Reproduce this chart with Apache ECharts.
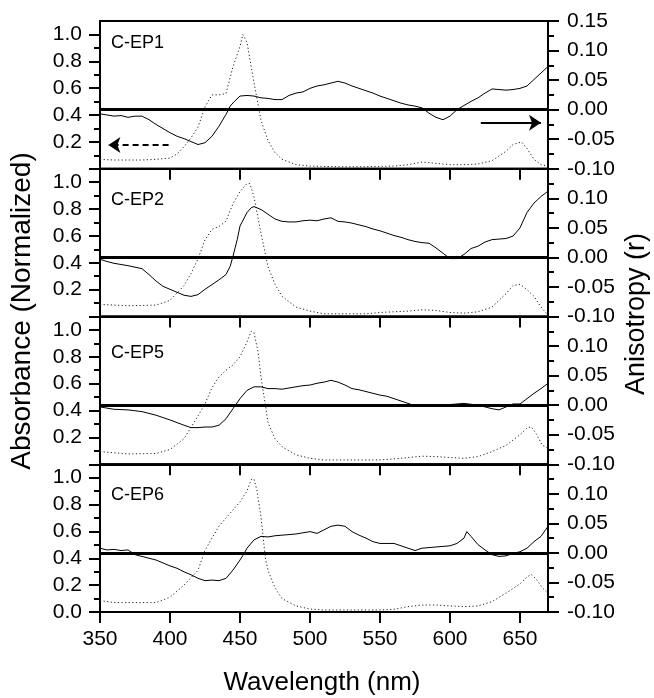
<!DOCTYPE html>
<html>
<head>
<meta charset="utf-8">
<script src="https://cdn.jsdelivr.net/npm/echarts@6/dist/echarts.min.js"></script>
<style>
  html, body { margin: 0; padding: 0; background: #fff; }
  #chart { width: 654px; height: 698px; }
</style>
</head>
<body>
<div id="chart"></div>
<script>
// sample names, one panel each
const panelNames = ["C-EP1", "C-EP2", "C-EP5", "C-EP6"];

// tick positions
const absTicks = [0.0, 0.2, 0.4, 0.6, 0.8, 1.0];
const absLabels = [0.2, 0.4, 0.6, 0.8, 1.0];
const absLabelsBottom = [0.0, 0.2, 0.4, 0.6, 0.8, 1.0];
const absMinorTicks = [0.1, 0.3, 0.5, 0.7, 0.9];
const anisTicks = [-0.1, -0.05, 0.0, 0.05, 0.1, 0.15];
const anisLabels = [-0.1, -0.05, 0.0, 0.05, 0.1];
const anisLabelsTop = [-0.1, -0.05, 0.0, 0.05, 0.1, 0.15];
const anisMinorTicks = [-0.075, -0.025, 0.025, 0.075, 0.125];

// absorbance (normalized), dotted curves  [nm, value]
const absEP1 = [[350,0.07],[360,0.065],[370,0.065],[380,0.065],[390,0.07],[400,0.08],[405,0.11],[410,0.165],[415,0.23],[420,0.31],[425,0.46],[430,0.55],[435,0.55],[440,0.56],[445,0.76],[450,0.91],[452,1.0],[455,0.94],[460,0.64],[465,0.36],[470,0.21],[475,0.12],[480,0.07],[490,0.03],[500,0.02],[520,0.015],[540,0.015],[560,0.02],[570,0.03],[580,0.05],[590,0.04],[600,0.03],[610,0.03],[620,0.035],[630,0.06],[640,0.13],[645,0.18],[651,0.2],[655,0.15],[660,0.07],[665,0.03],[670,0.02]];
const absEP2 = [[350,0.09],[370,0.08],[390,0.085],[400,0.12],[410,0.23],[415,0.32],[420,0.43],[425,0.57],[430,0.65],[435,0.67],[440,0.71],[445,0.84],[450,0.93],[455,0.99],[457,0.99],[460,0.89],[465,0.62],[470,0.37],[475,0.24],[480,0.15],[490,0.07],[500,0.04],[510,0.02],[540,0.02],[550,0.03],[570,0.04],[580,0.05],[590,0.045],[600,0.03],[610,0.025],[620,0.035],[630,0.07],[640,0.17],[645,0.23],[650,0.24],[655,0.2],[660,0.15],[665,0.07],[670,0.01]];
const absEP5 = [[350,0.094],[370,0.077],[390,0.08],[400,0.11],[410,0.19],[420,0.36],[425,0.45],[430,0.57],[435,0.65],[440,0.7],[445,0.74],[450,0.8],[455,0.91],[458,0.99],[460,0.98],[463,0.83],[465,0.65],[468,0.45],[470,0.31],[475,0.19],[480,0.13],[490,0.07],[500,0.044],[510,0.032],[550,0.032],[560,0.04],[570,0.05],[580,0.06],[590,0.057],[600,0.05],[610,0.044],[620,0.057],[630,0.094],[640,0.14],[650,0.22],[655,0.27],[658,0.28],[662,0.22],[666,0.14],[670,0.12]];
const absEP6 = [[350,0.085],[360,0.07],[390,0.07],[400,0.11],[410,0.2],[420,0.31],[425,0.46],[430,0.55],[435,0.64],[440,0.7],[445,0.76],[450,0.82],[455,0.9],[458,0.985],[460,0.99],[462,0.91],[465,0.71],[468,0.41],[470,0.31],[475,0.18],[480,0.1],[490,0.045],[500,0.022],[510,0.015],[550,0.015],[560,0.02],[570,0.04],[580,0.052],[590,0.052],[600,0.045],[610,0.04],[620,0.045],[630,0.077],[640,0.14],[650,0.21],[655,0.26],[658,0.28],[662,0.24],[666,0.18],[670,0.14]];

// anisotropy r, solid curves  [nm, value]
const anisEP1 = [[350,-0.007],[355,-0.009],[360,-0.011],[365,-0.01],[370,-0.013],[375,-0.011],[380,-0.011],[385,-0.017],[390,-0.025],[395,-0.032],[400,-0.039],[405,-0.045],[410,-0.049],[415,-0.054],[420,-0.059],[425,-0.056],[430,-0.045],[435,-0.028],[440,-0.008],[443,0.006],[446,0.014],[450,0.023],[455,0.024],[460,0.023],[465,0.02],[470,0.019],[475,0.017],[480,0.017],[485,0.024],[490,0.028],[495,0.03],[500,0.036],[505,0.04],[510,0.042],[515,0.045],[520,0.048],[525,0.045],[530,0.04],[535,0.036],[540,0.032],[545,0.028],[550,0.023],[555,0.019],[560,0.015],[565,0.011],[570,0.008],[575,0.006],[580,0.003],[585,-0.006],[590,-0.013],[595,-0.017],[600,-0.011],[605,0.0],[610,0.007],[615,0.014],[620,0.02],[625,0.028],[630,0.035],[635,0.034],[640,0.033],[645,0.034],[650,0.036],[655,0.04],[660,0.051],[665,0.062],[670,0.073]];
const anisEP2 = [[350,-0.003],[355,-0.007],[360,-0.01],[370,-0.014],[380,-0.019],[385,-0.029],[390,-0.04],[395,-0.049],[400,-0.054],[410,-0.064],[415,-0.066],[420,-0.063],[425,-0.054],[430,-0.046],[435,-0.038],[440,-0.029],[443,-0.015],[445,0.002],[448,0.03],[450,0.053],[455,0.076],[458,0.084],[460,0.086],[465,0.081],[470,0.073],[475,0.065],[480,0.061],[485,0.06],[490,0.06],[495,0.062],[500,0.063],[505,0.062],[510,0.065],[515,0.067],[520,0.061],[525,0.06],[530,0.058],[535,0.055],[540,0.052],[545,0.048],[550,0.045],[555,0.041],[560,0.037],[565,0.034],[570,0.03],[575,0.027],[580,0.025],[585,0.024],[590,0.016],[595,0.007],[600,-0.002],[605,-0.002],[610,0.005],[615,0.015],[620,0.019],[625,0.026],[630,0.03],[635,0.031],[640,0.032],[645,0.036],[650,0.05],[655,0.076],[660,0.092],[665,0.103],[670,0.112]];
const anisEP5 = [[350,-0.003],[355,-0.005],[360,-0.007],[370,-0.008],[380,-0.011],[390,-0.017],[400,-0.025],[410,-0.034],[415,-0.038],[420,-0.038],[425,-0.037],[430,-0.037],[435,-0.034],[440,-0.023],[445,-0.006],[450,0.011],[455,0.025],[460,0.031],[465,0.031],[470,0.028],[475,0.028],[480,0.027],[485,0.029],[490,0.031],[495,0.033],[500,0.034],[505,0.037],[510,0.039],[515,0.042],[520,0.039],[525,0.034],[530,0.028],[535,0.026],[540,0.023],[545,0.02],[550,0.017],[555,0.015],[560,0.011],[565,0.007],[570,0.003],[575,-0.001],[580,-0.002],[590,-0.002],[600,0.001],[610,0.003],[620,0.0],[630,-0.006],[635,-0.008],[640,-0.003],[645,0.002],[650,0.002],[655,0.011],[660,0.02],[665,0.028],[670,0.037]];
const anisEP6 = [[350,0.008],[355,0.005],[360,0.006],[365,0.004],[370,0.005],[375,-0.003],[380,-0.006],[385,-0.009],[390,-0.012],[395,-0.017],[400,-0.022],[405,-0.026],[410,-0.032],[415,-0.037],[420,-0.043],[425,-0.047],[430,-0.046],[435,-0.047],[440,-0.043],[445,-0.029],[450,-0.012],[453,-0.001],[455,0.008],[460,0.022],[465,0.028],[470,0.027],[475,0.029],[480,0.03],[485,0.031],[490,0.032],[495,0.034],[500,0.036],[505,0.033],[510,0.039],[515,0.045],[520,0.047],[525,0.045],[530,0.036],[535,0.03],[540,0.025],[545,0.019],[550,0.016],[555,0.016],[560,0.016],[565,0.012],[570,0.008],[575,0.004],[580,0.008],[585,0.009],[590,0.01],[595,0.011],[600,0.012],[605,0.016],[610,0.025],[612,0.036],[615,0.028],[620,0.014],[625,0.005],[630,-0.003],[635,-0.006],[640,-0.005],[645,-0.001],[650,0.002],[655,0.008],[660,0.019],[665,0.028],[670,0.045]];

const absData = [absEP1, absEP2, absEP5, absEP6];
const anisData = [anisEP1, anisEP2, anisEP5, anisEP6];

// panel arrows (first panel only)
const absArrow = [[399, 0.177], [356, 0.177]];
const anisArrow = [[622, -0.022], [665, -0.022]];

function init() {
  const chart = echarts.init(document.getElementById("chart"));
  const font = '"Liberation Sans", Arial, sans-serif';
  const black = "#000";
  const clear = "rgba(0,0,0,0)";
  const panelTop = 21;
  const panelH = 147.75;
  const labelTops = [34, 191, 344, 486];
  const tickStyle = { color: black, width: 2 };

  const grids = [], xAxes = [], yAxes = [], series = [], titles = [];

  // an axis that only draws tick marks (no line, no labels)
  function tickAxis(base, values, len) {
    return Object.assign({}, base, {
      axisLine: { show: false, onZero: false },
      axisTick: { show: true, customValues: values, length: len, lineStyle: tickStyle },
      axisLabel: { show: false },
      splitLine: { show: false },
    });
  }

  panelNames.forEach(function (name, i) {
    const first = i === 0;
    const last = i === panelNames.length - 1;
    grids.push({
      left: 100, right: 106,
      top: panelTop + i * panelH, height: panelH,
      show: true, borderColor: black, borderWidth: 2,
      backgroundColor: "transparent",
    });

    // wavelength axis, auto ticks every 50 nm; labels only seen on the bottom panel
    xAxes.push({
      type: "value", gridIndex: i, min: 350, max: 670,
      axisLine: { onZero: false, lineStyle: tickStyle },
      axisTick: { show: true, length: 11, lineStyle: tickStyle },
      axisLabel: {
        margin: 17, fontSize: 21, showMaxLabel: false,
        color: last ? black : clear, fontFamily: font,
      },
      splitLine: { show: false },
    });

    // absorbance axis (left)
    const lBase = { type: "value", gridIndex: i, position: "left", min: 0, max: 1.1 };
    yAxes.push(Object.assign({}, lBase, {
      axisLine: { show: true, lineStyle: tickStyle },
      axisTick: { show: false },
      axisLabel: {
        customValues: last ? absLabelsBottom : absLabels, margin: 18, fontSize: 21,
        color: black, fontFamily: font,
        formatter: function (v) { return v.toFixed(1); },
      },
      splitLine: { show: false },
    }));
    yAxes.push(tickAxis(lBase, absTicks, 11));
    yAxes.push(tickAxis(lBase, absMinorTicks, 6));

    // anisotropy axis (right)
    const rBase = { type: "value", gridIndex: i, position: "right", min: -0.1, max: 0.15 };
    yAxes.push(Object.assign({}, rBase, {
      axisLine: { show: true, lineStyle: tickStyle },
      axisTick: { show: false },
      axisLabel: {
        customValues: first ? anisLabelsTop : anisLabels, margin: 19, fontSize: 21,
        color: black, fontFamily: font,
        formatter: function (v) { return v.toFixed(2); },
      },
      splitLine: { show: false },
    }));
    yAxes.push(tickAxis(rBase, anisTicks, 11));
    yAxes.push(tickAxis(rBase, anisMinorTicks, 6));

    titles.push({
      text: name, left: 111, top: labelTops[i], padding: 0,
      textStyle: { fontSize: 18, fontWeight: "normal", color: black, fontFamily: font },
    });

    // absorbance, dotted
    const absSeries = {
      type: "line", xAxisIndex: i, yAxisIndex: 6 * i,
      data: absData[i], symbol: "none", silent: true,
      lineStyle: { color: "#222", width: 1, type: [1.2, 2.4] },
    };
    // anisotropy, solid, with the zero line
    const anisSeries = {
      type: "line", xAxisIndex: i, yAxisIndex: 6 * i + 3,
      data: anisData[i], symbol: "none", silent: true,
      lineStyle: { color: black, width: 1 },
      markLine: {
        silent: true, symbol: ["none", "none"], label: { show: false },
        lineStyle: { color: black, width: 3, type: "solid" },
        data: [{ yAxis: 0 }],
      },
    };
    if (first) {
      absSeries.markLine = {
        silent: true, symbol: ["none", "arrow"], symbolSize: 12, label: { show: false },
        lineStyle: { color: black, width: 2, type: [6, 4] },
        data: [[{ coord: absArrow[0] }, { coord: absArrow[1] }]],
      };
      anisSeries.markLine.data.push([
        { coord: anisArrow[0], symbol: "none", lineStyle: { width: 2 } },
        { coord: anisArrow[1], symbol: "arrow", symbolSize: 12 },
      ]);
    }
    series.push(absSeries, anisSeries);
  });

  const option = {
    animation: false,
    backgroundColor: "#fff",
    title: titles,
    grid: grids,
    xAxis: xAxes,
    yAxis: yAxes,
    series: series,
    graphic: [
      {
        type: "text", x: 322, y: 683, silent: true,
        style: { text: "Wavelength (nm)", fill: black, font: "26px " + font, align: "center", verticalAlign: "middle" },
      },
      {
        type: "text", x: 22, y: 311, rotation: Math.PI / 2, silent: true,
        style: { text: "Absorbance (Normalized)", fill: black, font: "28px " + font, align: "center", verticalAlign: "middle" },
      },
      {
        type: "text", x: 637, y: 314, rotation: Math.PI / 2, silent: true,
        style: { text: "Anisotropy (r)", fill: black, font: "27px " + font, align: "center", verticalAlign: "middle" },
      },
    ],
  };
  chart.setOption(option);
}
init();
</script>
</body>
</html>
